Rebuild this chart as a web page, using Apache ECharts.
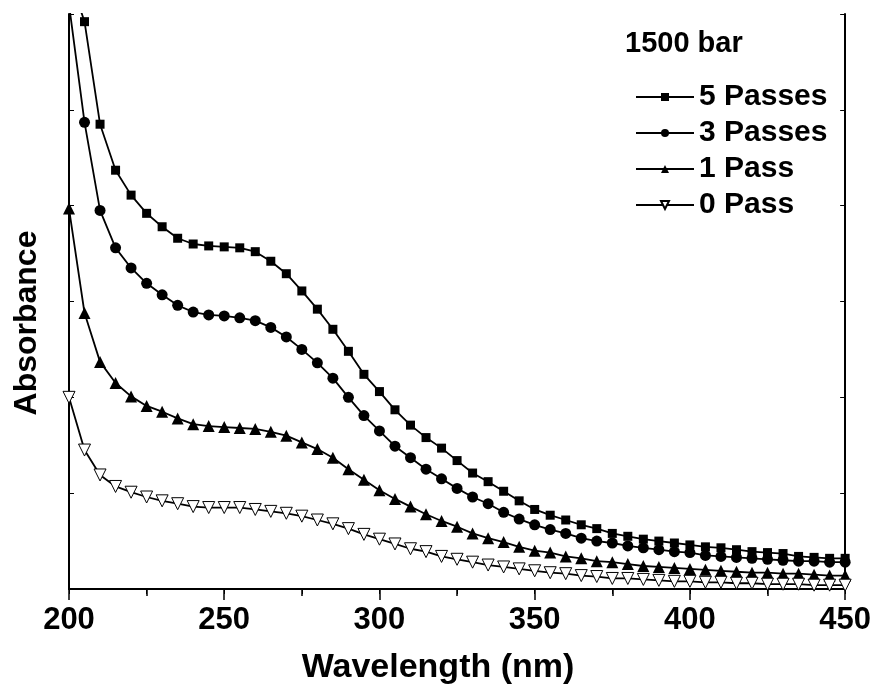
<!DOCTYPE html>
<html>
<head>
<meta charset="utf-8">
<script src="https://cdn.jsdelivr.net/npm/echarts@6/dist/echarts.min.js"></script>
<style>
html, body { margin: 0; padding: 0; background: #fff; }
#chart { width: 874px; height: 693px; }
</style>
</head>
<body>
<div id="chart"></div>
<script>
// wavelength (nm), one reading every 5 nm
const wavelengths = [200, 205, 210, 215, 220, 225, 230, 235, 240, 245,
  250, 255, 260, 265, 270, 275, 280, 285, 290, 295,
  300, 305, 310, 315, 320, 325, 330, 335, 340, 345,
  350, 355, 360, 365, 370, 375, 380, 385, 390, 395,
  400, 405, 410, 415, 420, 425, 430, 435, 440, 445, 450];

// absorbance, arbitrary units (axis has no labels)
const passes5 = [6.4, 5.92, 4.85, 4.37, 4.11, 3.92, 3.78, 3.66, 3.60, 3.58,
  3.57, 3.56, 3.52, 3.42, 3.29, 3.11, 2.92, 2.71, 2.48, 2.24,
  2.06, 1.87, 1.71, 1.58, 1.47, 1.34, 1.21, 1.12, 1.02, 0.92,
  0.83, 0.77, 0.72, 0.67, 0.63, 0.58, 0.55, 0.52, 0.50, 0.48,
  0.46, 0.44, 0.43, 0.41, 0.39, 0.38, 0.37, 0.34, 0.33, 0.32, 0.32];
const passes3 = [6.1, 4.87, 3.95, 3.56, 3.35, 3.19, 3.07, 2.96, 2.89, 2.86,
  2.85, 2.83, 2.80, 2.73, 2.63, 2.50, 2.36, 2.20, 2.00, 1.81,
  1.65, 1.49, 1.37, 1.25, 1.15, 1.05, 0.96, 0.89, 0.80, 0.73,
  0.67, 0.62, 0.58, 0.53, 0.50, 0.48, 0.45, 0.43, 0.41, 0.39,
  0.38, 0.35, 0.34, 0.33, 0.32, 0.31, 0.30, 0.29, 0.29, 0.28, 0.28];
const passes1 = [3.97, 2.88, 2.37, 2.15, 2.01, 1.91, 1.85, 1.78, 1.72, 1.70,
  1.69, 1.68, 1.67, 1.64, 1.60, 1.53, 1.46, 1.37, 1.25, 1.14,
  1.03, 0.94, 0.86, 0.78, 0.71, 0.65, 0.58, 0.53, 0.49, 0.44,
  0.40, 0.38, 0.34, 0.32, 0.29, 0.28, 0.26, 0.24, 0.23, 0.22,
  0.21, 0.20, 0.19, 0.18, 0.17, 0.17, 0.16, 0.16, 0.15, 0.14, 0.14];
const passes0 = [2.00, 1.45, 1.19, 1.07, 1.01, 0.96, 0.92, 0.89, 0.86, 0.85,
  0.85, 0.85, 0.83, 0.81, 0.79, 0.76, 0.72, 0.68, 0.63, 0.57,
  0.52, 0.47, 0.42, 0.39, 0.34, 0.31, 0.28, 0.25, 0.23, 0.21,
  0.19, 0.17, 0.16, 0.14, 0.13, 0.11, 0.11, 0.10, 0.09, 0.08,
  0.08, 0.07, 0.07, 0.06, 0.06, 0.05, 0.05, 0.05, 0.04, 0.04, 0.04];

const seriesNames = ['5 Passes', '3 Passes', '1 Pass', '0 Pass'];
const xTicks = [200, 250, 300, 350, 400, 450];

const FONT = 'Liberation Sans, Arial, sans-serif';

function pairs(vals) {
  return wavelengths.map((w, i) => [w, vals[i]]);
}

function lineSeries(name, vals, symbol, size, extra) {
  return Object.assign({
    name: name,
    type: 'line',
    data: pairs(vals),
    symbol: symbol,
    symbolSize: size,
    showAllSymbol: true,
    clip: true,
    lineStyle: { color: '#000', width: 1.8 },
    itemStyle: { color: '#000' },
    emphasis: { disabled: true }
  }, extra || {});
}

const chart = echarts.init(document.getElementById('chart'));

const option = {
  animation: false,
  backgroundColor: '#fff',
  grid: { left: 69, right: 28, top: 14, bottom: 104 },
  legend: {
    orient: 'vertical',
    left: 630,
    top: 77,
    itemWidth: 58,
    itemHeight: 10,
    itemGap: 6,
    data: seriesNames,
    textStyle: { fontFamily: FONT, fontWeight: 'bold', fontSize: 30, color: '#000' }
  },
  xAxis: [
    {
      type: 'value', min: xTicks[0], max: xTicks[xTicks.length - 1], interval: 50,
      position: 'bottom',
      axisLine: { show: true, lineStyle: { color: '#000', width: 2 } },
      axisTick: { show: true, length: 11, lineStyle: { color: '#000', width: 1.5 } },
      minorTick: { show: true, splitNumber: 2, length: 7, lineStyle: { color: '#000', width: 1.5 } },
      axisLabel: { fontFamily: FONT, fontWeight: 'bold', fontSize: 31, color: '#000', margin: 16 },
      splitLine: { show: false }
    },
    {
      type: 'value', min: 200, max: 450, interval: 25,
      position: 'top',
      axisLine: { show: true, lineStyle: { color: '#000', width: 2 } },
      axisTick: { show: true, inside: true, length: 5, lineStyle: { color: '#000', width: 1 } },
      axisLabel: { show: false },
      splitLine: { show: false }
    }
  ],
  yAxis: [
    {
      type: 'value', min: 0, max: 6, interval: 1,
      position: 'left',
      axisLine: { show: true, lineStyle: { color: '#000', width: 2 } },
      axisTick: { show: true, inside: true, length: 5, lineStyle: { color: '#000', width: 1 } },
      axisLabel: { show: false },
      splitLine: { show: false }
    },
    {
      type: 'value', min: 0, max: 6, interval: 1,
      position: 'right',
      axisLine: { show: true, lineStyle: { color: '#000', width: 2 } },
      axisTick: { show: true, inside: true, length: 5, lineStyle: { color: '#000', width: 1 } },
      axisLabel: { show: false },
      splitLine: { show: false }
    }
  ],
  graphic: [
    {
      type: 'text', x: 27, y: 323, rotation: Math.PI / 2,
      style: { text: 'Absorbance', font: 'bold 32px ' + FONT, fill: '#000', textAlign: 'center', textVerticalAlign: 'middle' }
    },
    {
      type: 'text', x: 438, y: 668,
      style: { text: 'Wavelength (nm)', font: 'bold 34px ' + FONT, fill: '#000', textAlign: 'center', textVerticalAlign: 'middle' }
    },
    {
      type: 'text', x: 625, y: 44,
      style: { text: '1500 bar', font: 'bold 29px ' + FONT, fill: '#000', textAlign: 'left', textVerticalAlign: 'middle' }
    }
  ],
  series: [
    lineSeries(seriesNames[0], passes5, 'rect', 9),
    lineSeries(seriesNames[1], passes3, 'circle', 11),
    lineSeries(seriesNames[2], passes1, 'triangle', 12),
    lineSeries(seriesNames[3], passes0, 'triangle', 12, {
      symbolRotate: 180,
      itemStyle: { color: '#fff', borderColor: '#000', borderWidth: 1 }
    })
  ]
};

chart.setOption(option);
</script>
</body>
</html>
